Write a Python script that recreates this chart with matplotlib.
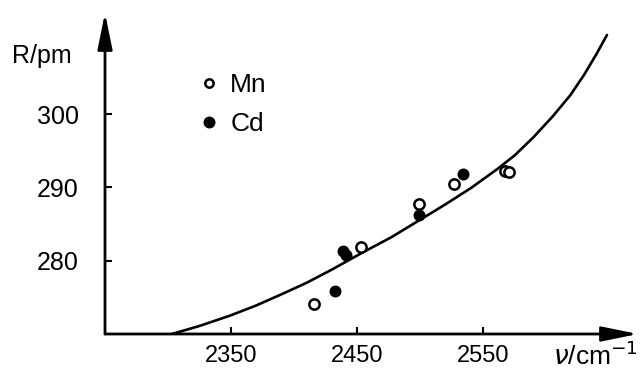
import matplotlib
matplotlib.use("Agg")
from matplotlib import pyplot as plt

plt.rcParams["font.family"] = ["Liberation Sans", "DejaVu Sans"]

# fitted curve
curve_nu = [2303, 2325, 2349, 2370, 2391, 2410, 2430, 2454, 2477, 2500,
            2520, 2540, 2561, 2575, 2590, 2605, 2619, 2630, 2640, 2648]
curve_r = [270.0, 271.1, 272.5, 273.9, 275.5, 277.0, 278.8, 281.1, 283.2, 285.6,
           287.7, 289.9, 292.5, 294.4, 296.9, 299.7, 302.6, 305.4, 308.3, 310.8]

# measured points
mn_nu = [2416, 2453, 2499, 2527, 2567, 2570]
mn_r = [274.1, 281.9, 287.8, 290.5, 292.3, 292.1]
cd_nu = [2432, 2439, 2441, 2499, 2534]
cd_r = [275.8, 281.3, 280.8, 286.3, 291.8]

x_ticks = [2350, 2450, 2550]
y_ticks = [280, 290, 300]

W, H = 642, 370
fig = plt.figure(figsize=(W / 100, H / 100), dpi=100)
ax = fig.add_axes([105 / W, 36 / H, (638 - 105) / W, (334 - 13) / H])
ax.set_xlim(2250, 2672.6)
ax.set_ylim(270, 313.8)

ax.plot(curve_nu, curve_r, color="black", lw=1.9, solid_capstyle="round",
        solid_joinstyle="round")
ax.plot(mn_nu, mn_r, "o", ms=7.4, mfc="white", mec="black", mew=1.8, label="Mn", clip_on=False)
ax.plot(cd_nu, cd_r, "o", ms=7.6, mfc="black", mec="black", label="Cd", clip_on=False)

for s in ax.spines.values():
    s.set_visible(False)

# axes as arrows
arrow = dict(arrowstyle="-|>,head_length=2.2,head_width=0.45", color="black",
             lw=2.0, shrinkA=0, shrinkB=0, mutation_scale=10)
ax.annotate("", xy=(1, 0), xytext=(0, 0), xycoords="axes fraction", arrowprops=arrow)
ax.annotate("", xy=(0, 1), xytext=(0, 0), xycoords="axes fraction", arrowprops=arrow)

ax.set_xticks(x_ticks)
ax.set_yticks(y_ticks)
ax.tick_params(direction="in", length=5, width=1.5, labelsize=18)
ax.tick_params(axis="y", pad=19)
ax.tick_params(axis="x", pad=8, labelsize=17)

fig.text(12 / W, 1 - 63 / H, "R/pm", fontsize=18, va="baseline", ha="left")
fig.text(553 / W, 1 - 365 / H, "$\\nu$/cm$^{-1}$", fontsize=19, va="baseline", ha="left")

leg = ax.legend(loc="upper left", bbox_to_anchor=(200 / W, 1 - 73 / H),
                bbox_transform=fig.transFigure, frameon=False, fontsize=19,
                handlelength=0.7, handletextpad=0.45, labelspacing=0.56,
                borderpad=0, borderaxespad=0)
leg.legend_handles[0].set_markersize(6)

fig.savefig("out.png", dpi=100)
